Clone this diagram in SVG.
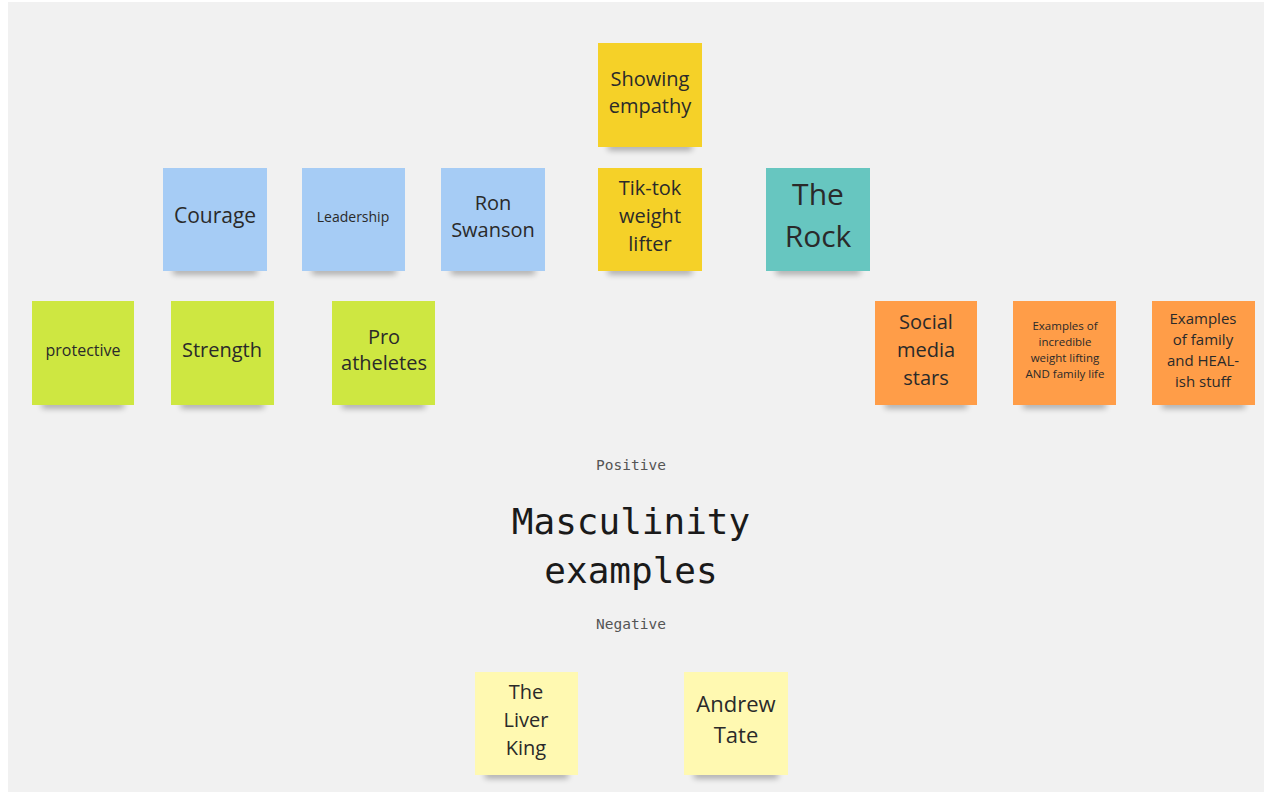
<svg xmlns="http://www.w3.org/2000/svg" width="1264" height="792" viewBox="0 0 1264 792">
<defs>
<filter id="blur" x="-20%" y="-200%" width="140%" height="500%"><feGaussianBlur stdDeviation="3"/></filter>
<style>
.note{stroke:none}
.sh{fill:#000;opacity:0.35;filter:url(#blur)}
.t{font-family:"Open Sans","Noto Sans",sans-serif;fill:#2a2a2a;text-anchor:middle}
.m{font-family:"DejaVu Sans Mono","Liberation Mono",monospace;fill:#1a1a1a;text-anchor:middle}
.s{fill:#555}
.blue{fill:#a6ccf5}.yel{fill:#f5d128}.teal{fill:#67c6c0}.grn{fill:#cee741}.org{fill:#ff9d48}.lyel{fill:#fff9b1}
</style>
</defs>
<rect x="0" y="0" width="1264" height="792" fill="#ffffff"/>
<rect x="8" y="2" width="1256" height="790" fill="#f1f1f1"/>

<g id="showing-empathy">
<rect class="sh" x="608" y="144" width="84" height="6"/>
<rect class="note yel" x="598" y="43" width="104" height="104"/>
<text class="t" font-size="20"><tspan x="650" y="86">Showing</tspan><tspan x="650" y="113">empathy</tspan></text>
</g>
<g id="courage">
<rect class="sh" x="173" y="268" width="84" height="6"/>
<rect class="note blue" x="163" y="168" width="104" height="103"/>
<text class="t" font-size="21" x="215" y="223">Courage</text>
</g>
<g id="leadership">
<rect class="sh" x="312" y="268" width="84" height="6"/>
<rect class="note blue" x="302" y="168" width="103" height="103"/>
<text class="t" font-size="14" x="353" y="222">Leadership</text>
</g>
<g id="ron-swanson">
<rect class="sh" x="451" y="268" width="84" height="6"/>
<rect class="note blue" x="441" y="168" width="104" height="103"/>
<text class="t" font-size="20"><tspan x="493" y="210">Ron</tspan><tspan x="493" y="237">Swanson</tspan></text>
</g>
<g id="tiktok">
<rect class="sh" x="608" y="268" width="84" height="6"/>
<rect class="note yel" x="598" y="168" width="104" height="103"/>
<text class="t" font-size="20"><tspan x="650" y="195">Tik-tok</tspan><tspan x="650" y="223">weight</tspan><tspan x="650" y="251">lifter</tspan></text>
</g>
<g id="the-rock">
<rect class="sh" x="776" y="268" width="84" height="6"/>
<rect class="note teal" x="766" y="168" width="104" height="103"/>
<text class="t" font-size="30"><tspan x="818" y="205">The</tspan><tspan x="818" y="247">Rock</tspan></text>
</g>
<g id="protective">
<rect class="sh" x="42" y="402" width="82" height="6"/>
<rect class="note grn" x="32" y="301" width="102" height="104"/>
<text class="t" font-size="16" x="83" y="356">protective</text>
</g>
<g id="strength">
<rect class="sh" x="181" y="402" width="83" height="6"/>
<rect class="note grn" x="171" y="301" width="103" height="104"/>
<text class="t" font-size="20" x="222" y="357">Strength</text>
</g>
<g id="pro-atheletes">
<rect class="sh" x="342" y="402" width="83" height="6"/>
<rect class="note grn" x="332" y="301" width="103" height="104"/>
<text class="t" font-size="20"><tspan x="384" y="344">Pro</tspan><tspan x="384" y="370">atheletes</tspan></text>
</g>
<g id="social-media-stars">
<rect class="sh" x="885" y="402" width="82" height="6"/>
<rect class="note org" x="875" y="301" width="102" height="104"/>
<text class="t" font-size="20"><tspan x="926" y="329">Social</tspan><tspan x="926" y="357">media</tspan><tspan x="926" y="385">stars</tspan></text>
</g>
<g id="examples-weight">
<rect class="sh" x="1023" y="402" width="83" height="6"/>
<rect class="note org" x="1013" y="301" width="103" height="104"/>
<text class="t" font-size="11.5"><tspan x="1065" y="330">Examples of</tspan><tspan x="1065" y="346">incredible</tspan><tspan x="1065" y="362">weight lifting</tspan><tspan x="1065" y="378">AND family life</tspan></text>
</g>
<g id="examples-family">
<rect class="sh" x="1162" y="402" width="83" height="6"/>
<rect class="note org" x="1152" y="301" width="103" height="104"/>
<text class="t" font-size="15"><tspan x="1203" y="324">Examples</tspan><tspan x="1203" y="345">of family</tspan><tspan x="1203" y="366">and HEAL-</tspan><tspan x="1203" y="387">ish stuff</tspan></text>
</g>
<g id="title">
<text class="m s" font-size="14.5" x="631" y="470">Positive</text>
<text class="m" font-size="36" x="631" y="534">Masculinity</text>
<text class="m" font-size="36" x="631" y="583">examples</text>
<text class="m s" font-size="14.5" x="631" y="629">Negative</text>
</g>
<g id="liver-king">
<rect class="sh" x="485" y="772" width="83" height="6"/>
<rect class="note lyel" x="475" y="672" width="103" height="103"/>
<text class="t" font-size="20"><tspan x="526" y="699">The</tspan><tspan x="526" y="727">Liver</tspan><tspan x="526" y="755">King</tspan></text>
</g>
<g id="andrew-tate">
<rect class="sh" x="694" y="772" width="84" height="6"/>
<rect class="note lyel" x="684" y="672" width="104" height="103"/>
<text class="t" font-size="22"><tspan x="736" y="712">Andrew</tspan><tspan x="736" y="743">Tate</tspan></text>
</g>
<g id="connectors"></g>
</svg>
